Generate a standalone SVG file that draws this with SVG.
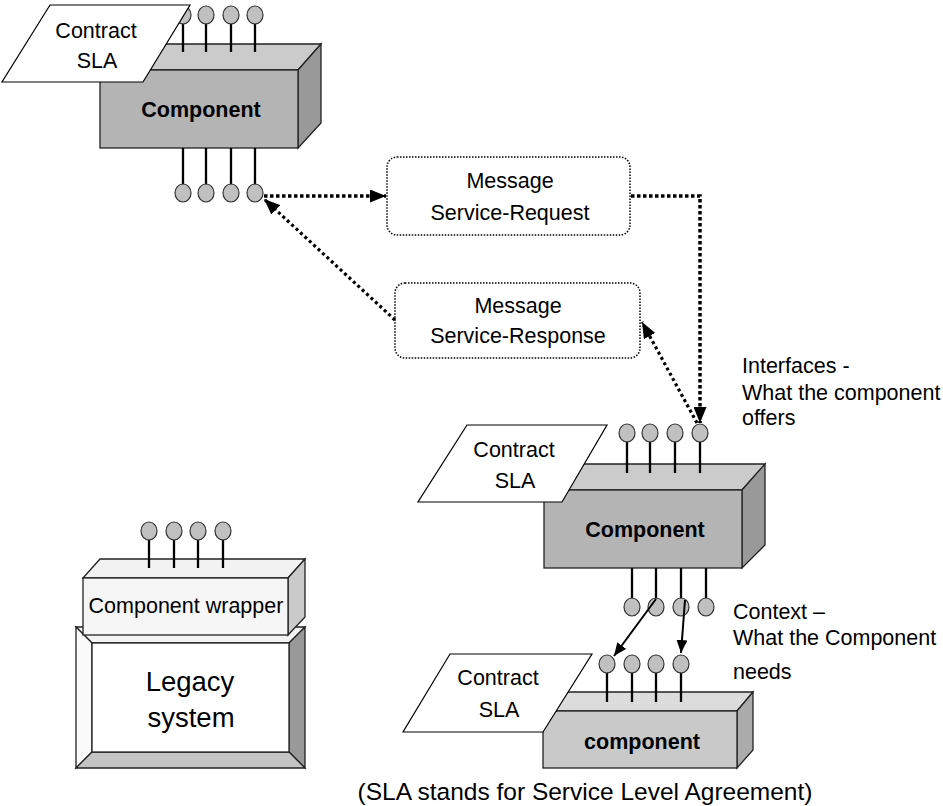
<svg xmlns="http://www.w3.org/2000/svg" width="943" height="806" viewBox="0 0 943 806">
<style>
text{font-family:"Liberation Sans",Arial,sans-serif;font-size:21.5px;fill:#000}
.c{text-anchor:middle}
.b{font-weight:bold}
.edge{stroke:#222;stroke-width:1.3}
.front{fill:#b4b4b4}
.top{fill:#cbcbcb}
.side{fill:#999}
.lfront{fill:#c9c9c9}
.ltop{fill:#dcdcdc}
.lside{fill:#ababab}
.stick{stroke:#000;stroke-width:2.3}
.pin{fill:#c0c0c0;stroke:#333;stroke-width:1.2}
.sla{fill:#fff;stroke:#000;stroke-width:1.2}
.msg{fill:#fff;stroke:#000;stroke-width:1.5;stroke-dasharray:1.5 1.5}
.dot{fill:none;stroke:#000;stroke-width:3.5;stroke-dasharray:3.5 2.5}
.dotd{fill:none;stroke:#000;stroke-width:3.2;stroke-dasharray:3 3}
.sol{fill:none;stroke:#000;stroke-width:2}
</style>
<defs>
<marker id="ad" markerUnits="userSpaceOnUse" viewBox="0 0 16 13" refX="16" refY="6.5" markerWidth="16" markerHeight="13" orient="auto"><path d="M0,0 L16,6.5 L0,13 z" fill="#000"/></marker>
<marker id="as" markerUnits="userSpaceOnUse" viewBox="0 0 13 11" refX="13" refY="5.5" markerWidth="13" markerHeight="11" orient="auto"><path d="M0,0 L13,5.5 L0,11 z" fill="#000"/></marker>
</defs>

<g id="component-top">
<polygon class="top edge" points="100,70 123,44 321,44 298,70"/>
<polygon class="side edge" points="298,70 321,44 321,123 298,148"/>
<rect class="front edge" x="100" y="70" width="198" height="78"/>
<g class="stick"><line x1="183" y1="22" x2="183" y2="52"/><line x1="206" y1="22" x2="206" y2="52"/><line x1="231" y1="22" x2="231" y2="52"/><line x1="255" y1="22" x2="255" y2="52"/>
<line x1="183" y1="148" x2="183" y2="185"/><line x1="206" y1="148" x2="206" y2="185"/><line x1="231" y1="148" x2="231" y2="185"/><line x1="255" y1="148" x2="255" y2="185"/></g>
<g class="pin"><ellipse cx="183" cy="15" rx="8" ry="9"/><ellipse cx="206" cy="15" rx="8" ry="9"/><ellipse cx="231" cy="15" rx="8" ry="9"/><ellipse cx="255" cy="15" rx="8" ry="9"/>
<ellipse cx="183" cy="193" rx="8" ry="9"/><ellipse cx="206" cy="193" rx="8" ry="9"/><ellipse cx="231" cy="193" rx="8" ry="9"/><ellipse cx="255" cy="193" rx="8" ry="9"/></g>
<text class="c b" x="201" y="117">Component</text>
<polygon class="sla" points="50,5 190,5 143,82 2,82"/>
<text class="c" x="96" y="38">Contract</text>
<text class="c" x="97" y="68">SLA</text>
</g>

<g id="msg-request">
<rect class="msg" x="387" y="157" width="243" height="78" rx="10"/>
<text class="c" x="510" y="188">Message</text>
<text class="c" x="510" y="220">Service-Request</text>
</g>

<g id="msg-response">
<rect class="msg" x="395" y="283" width="245" height="75" rx="10"/>
<text class="c" x="518" y="313">Message</text>
<text class="c" x="518" y="343">Service-Response</text>
</g>

<g id="component-main">
<polygon class="top edge" points="544,490 567,464 765,464 742,490"/>
<polygon class="side edge" points="742,490 765,464 765,545 742,568"/>
<rect class="front edge" x="544" y="490" width="198" height="78"/>
<g class="stick"><line x1="627" y1="440" x2="627" y2="473"/><line x1="650" y1="440" x2="650" y2="473"/><line x1="675" y1="440" x2="675" y2="473"/><line x1="700" y1="440" x2="700" y2="473"/>
<line x1="632" y1="568" x2="632" y2="600"/><line x1="656" y1="568" x2="656" y2="600"/><line x1="681" y1="568" x2="681" y2="600"/><line x1="706" y1="568" x2="706" y2="600"/></g>
<g class="pin"><ellipse cx="627" cy="433" rx="8" ry="9"/><ellipse cx="650" cy="433" rx="8" ry="9"/><ellipse cx="675" cy="433" rx="8" ry="9"/><ellipse cx="700" cy="433" rx="8" ry="9"/>
<ellipse cx="632" cy="607" rx="8" ry="9"/><ellipse cx="656" cy="607" rx="8" ry="9"/><ellipse cx="681" cy="607" rx="8" ry="9"/><ellipse cx="706" cy="607" rx="8" ry="9"/></g>
<text class="c b" x="645" y="537">Component</text>
<polygon class="sla" points="467,425 607,425 562,502 418,502"/>
<text class="c" x="514" y="457">Contract</text>
<text class="c" x="515" y="488">SLA</text>
</g>

<g id="component-small">
<polygon class="ltop edge" points="543,711 559,692 753,692 737,711"/>
<polygon class="lside edge" points="737,711 753,692 753,750 737,768"/>
<rect class="lfront edge" x="543" y="711" width="194" height="57"/>
<g class="stick"><line x1="607" y1="671" x2="607" y2="702"/><line x1="632" y1="671" x2="632" y2="702"/><line x1="656" y1="671" x2="656" y2="702"/><line x1="681" y1="671" x2="681" y2="702"/></g>
<g class="pin"><ellipse cx="607" cy="664" rx="8" ry="9"/><ellipse cx="632" cy="664" rx="8" ry="9"/><ellipse cx="656" cy="664" rx="8" ry="9"/><ellipse cx="681" cy="664" rx="8" ry="9"/></g>
<text class="c b" x="642" y="749">component</text>
<polygon class="sla" points="450,654 592,654 543,732 403,732"/>
<text class="c" x="498" y="685">Contract</text>
<text class="c" x="499" y="717">SLA</text>
</g>

<g id="legacy-system">
<polygon fill="#f4f4f4" class="edge" points="76,627 305,627 289,643 92,643"/>
<polygon fill="#fafafa" class="edge" points="76,627 92,643 92,752 76,768"/>
<polygon fill="#999" class="edge" points="305,627 305,768 289,752 289,643"/>
<polygon fill="#c4c4c4" class="edge" points="76,768 92,752 289,752 305,768"/>
<rect x="92" y="643" width="197" height="109" fill="#fff" class="edge"/>
<text class="c" x="190" y="691" style="font-size:27.5px">Legacy</text>
<text class="c" x="191" y="727" style="font-size:27.5px">system</text>
</g>

<g id="component-wrapper">
<polygon fill="#f2f2f2" class="edge" points="83,578 100,559 305,559 288,578"/>
<polygon fill="#cacaca" class="edge" points="288,578 305,559 305,617 288,635"/>
<rect x="83" y="578" width="205" height="57" fill="#f6f6f6" class="edge"/>
<g class="stick"><line x1="149" y1="538" x2="149" y2="568"/><line x1="174" y1="538" x2="174" y2="568"/><line x1="198" y1="538" x2="198" y2="568"/><line x1="223" y1="538" x2="223" y2="568"/></g>
<g class="pin"><ellipse cx="149" cy="531" rx="8" ry="9"/><ellipse cx="174" cy="531" rx="8" ry="9"/><ellipse cx="198" cy="531" rx="8" ry="9"/><ellipse cx="223" cy="531" rx="8" ry="9"/></g>
<text class="c" x="186" y="613">Component wrapper</text>
</g>

<g id="connectors">
<path class="dot" d="M264,196 H386" marker-end="url(#ad)"/>
<path class="dot" d="M631,196 H700 V423" marker-end="url(#ad)"/>
<path class="dotd" d="M395,320 L264,199" marker-end="url(#ad)"/>
<path class="dotd" d="M697,423 L642,322" marker-end="url(#ad)"/>
<path class="sol" d="M656,599 L614,656" marker-end="url(#as)"/>
<path class="sol" d="M685,600 L681,653" marker-end="url(#as)"/>
</g>

<g id="labels">
<text x="742" y="373">Interfaces -</text>
<text x="742" y="400">What the component</text>
<text x="742" y="425">offers</text>
<text x="733" y="619">Context –</text>
<text x="733" y="645">What the Component</text>
<text x="733" y="679">needs</text>
<text class="c" x="585" y="800" style="font-size:24.5px">(SLA stands for Service Level Agreement)</text>
</g>
</svg>
